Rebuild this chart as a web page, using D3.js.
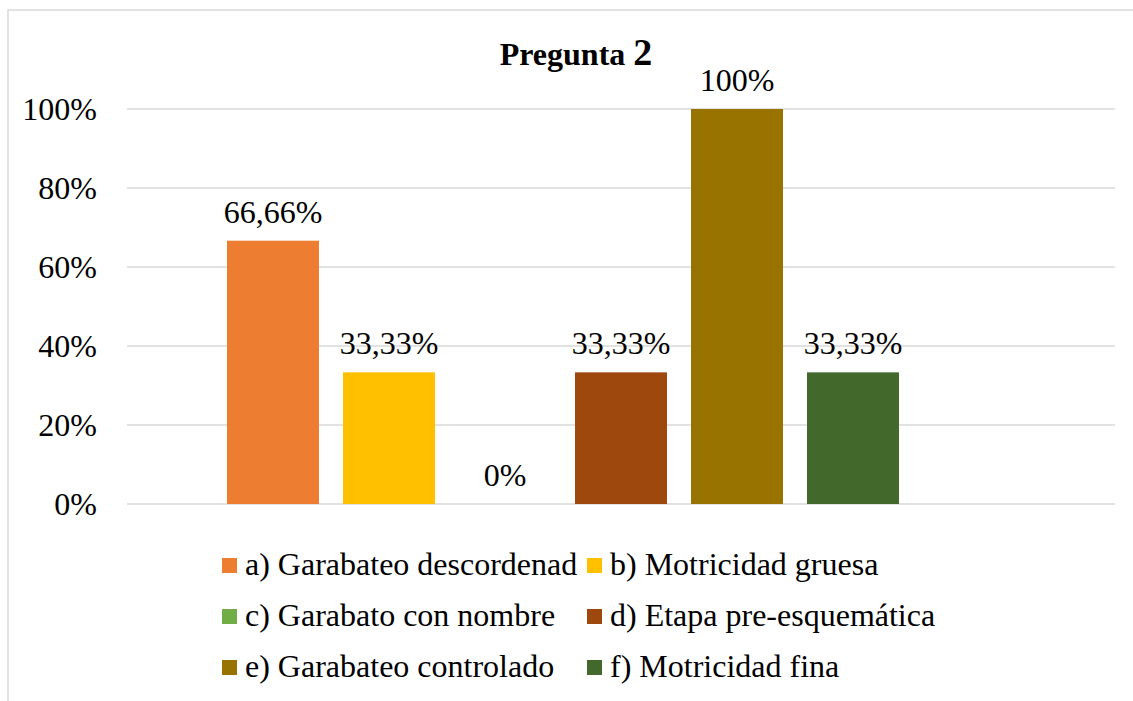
<!DOCTYPE html>
<html><head><meta charset="utf-8">
<script src="https://cdn.jsdelivr.net/npm/d3@7"></script>
<style>html,body{margin:0;padding:0;background:#fff;overflow:hidden}</style>
</head><body>
<svg id="chart" width="1133" height="701"></svg>
<script>
const seriesNames = [
  "a) Garabateo descordenad",
  "b) Motricidad gruesa",
  "c) Garabato con nombre",
  "d) Etapa pre-esquemática",
  "e) Garabateo controlado",
  "f) Motricidad fina"
];
const seriesValues = [0.6666, 0.3333, 0, 0.3333, 1.0, 0.3333];
const seriesColors = ["#ED7D31", "#FFC000", "#70AD47", "#9E480E", "#997300", "#43682B"];
const emptySlot = [""]; // hidden 7th series slot in the original chart
const yTicks = [0, 0.2, 0.4, 0.6, 0.8, 1.0];

const svg = d3.select("#chart");
const font = "'Liberation Serif','Times New Roman',serif";

// frame
svg.append("rect").attr("x", 8).attr("y", 10).attr("width", 1300).attr("height", 900)
  .attr("fill", "#fff").attr("stroke", "#d9d9d9").attr("stroke-width", 1.5);

const x = d3.scaleBand().domain(seriesNames.concat(emptySlot))
  .range([127, 1115]).paddingInner(0.207).paddingOuter(0.862);
const y = d3.scaleLinear().domain([0, 1]).range([504, 109]);

// gridlines
svg.append("g").selectAll("line").data(yTicks).join("line")
  .attr("x1", 127).attr("x2", 1115)
  .attr("y1", d => y(d)).attr("y2", d => y(d))
  .attr("stroke", "#d9d9d9").attr("stroke-width", 1.5);

// y axis labels
const yAxis = d3.axisLeft(y).tickValues(yTicks).tickFormat(d3.format(".0%")).tickSize(0).tickPadding(30);
const gy = svg.append("g").attr("transform", "translate(127,0)").call(yAxis);
gy.select(".domain").remove();
gy.selectAll("text").attr("font-family", font).attr("font-size", 32).attr("fill", "#000").attr("dy", "0.34em");

// bars
const data = seriesNames.map((n, i) => ({name: n, value: seriesValues[i], color: seriesColors[i]}));
svg.append("g").selectAll("rect").data(data).join("rect")
  .attr("x", d => x(d.name)).attr("width", x.bandwidth())
  .attr("y", d => y(d.value)).attr("height", d => y(0) - y(d.value))
  .attr("fill", d => d.color);

// value labels
const loc = d3.formatLocale({decimal: ",", thousands: ".", grouping: [3], currency: ["", "%"]});
const fmt = v => loc.format(".2~f")(v * 100) + "%";
svg.append("g").selectAll("text").data(data).join("text")
  .attr("x", d => x(d.name) + x.bandwidth() / 2)
  .attr("y", d => y(d.value) - 18)
  .attr("text-anchor", "middle")
  .attr("font-family", font).attr("font-size", 32).attr("fill", "#000")
  .text(d => fmt(d.value));

// title
const title = svg.append("text").attr("x", 576).attr("y", 65).attr("text-anchor", "middle")
  .attr("font-family", font).attr("font-weight", "bold").attr("fill", "#000");
title.append("tspan").attr("font-size", 32).text("Pregunta ");
title.append("tspan").attr("font-size", 38).text("2");

// legend
const colX = [222, 587];
const rowY = [575, 626, 677];
const lg = svg.append("g").selectAll("g").data(data).join("g")
  .attr("transform", (d, i) => `translate(${colX[i % 2]},${rowY[Math.floor(i / 2)]})`);
lg.append("rect").attr("x", 0).attr("y", -17).attr("width", 15).attr("height", 15).attr("fill", d => d.color);
lg.append("text").attr("x", 23).attr("y", 0)
  .attr("font-family", font).attr("font-size", 32).attr("fill", "#000")
  .text(d => d.name);
</script>
</body></html>
